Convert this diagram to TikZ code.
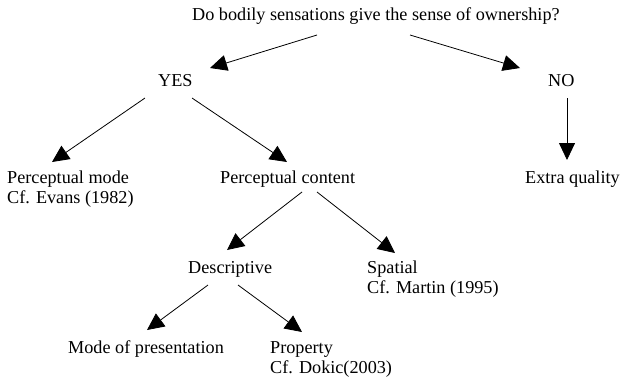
\documentclass[tikz,border=0pt]{standalone}
\usepackage{fontspec}
\setmainfont{Liberation Serif}
\usepackage{tikz}
\usetikzlibrary{calc}
\usetikzlibrary{arrows.meta}
\tikzset{txt/.style={inner sep=0pt,anchor=base west,align=left,font=\fontsize{18.2}{20}\selectfont}}
\tikzset{arr/.style={-{Triangle[length=17pt,width=16pt]},line width=0.8pt}}

\begin{document}
\begin{tikzpicture}[x=1pt,y=-1pt]
    \useasboundingbox (0,0) rectangle (620,381);

    \node[txt] (ask) at (192,20) {Do bodily sensations give the sense of ownership?};
    \node[txt] (yes) at (158,86) {YES};
    \node[txt] (no) at (548,86) {NO};
    \node[txt] (mode) at (7,203) {Perceptual mode\\Cf. Evans (1982)};
    \node[txt] (content) at (220,183) {Perceptual content};
    \node[txt] (extra) at (525,183) {Extra quality};
    \node[txt] (descr) at (188,273) {Descriptive};
    \node[txt] (spatial) at (367,293) {Spatial\\Cf. Martin (1995)};
    \node[txt] (present) at (68,353) {Mode of presentation};
    \node[txt] (property) at (270,373) {Property\\Cf. Dokic(2003)};

    \draw[arr] ($(ask.base west)+(125,15)$) -- ($(yes.base west)+(52,-18)$);
    \draw[arr] ($(ask.base west)+(218,15)$) -- ($(no.base west)+(-28,-18)$);
    \draw[arr] ($(no.base west)+(19,12)$) -- ($(extra.base west)+(42,-23)$);
    \draw[arr] ($(yes.base west)+(-13,12)$) -- ($(mode.base west)+(45,-41)$);
    \draw[arr] ($(yes.base west)+(34,12)$) -- ($(content.base west)+(67,-21)$);
    \draw[arr] ($(content.base west)+(82,9)$) -- ($(descr.base west)+(39,-23)$);
    \draw[arr] ($(content.base west)+(97,9)$) -- ($(spatial.base west)+(28,-40)$);
    \draw[arr] ($(descr.base west)+(20,12)$) -- ($(present.base west)+(79,-23)$);
    \draw[arr] ($(descr.base west)+(50,12)$) -- ($(property.base west)+(32,-41)$);
\end{tikzpicture}
\end{document}
